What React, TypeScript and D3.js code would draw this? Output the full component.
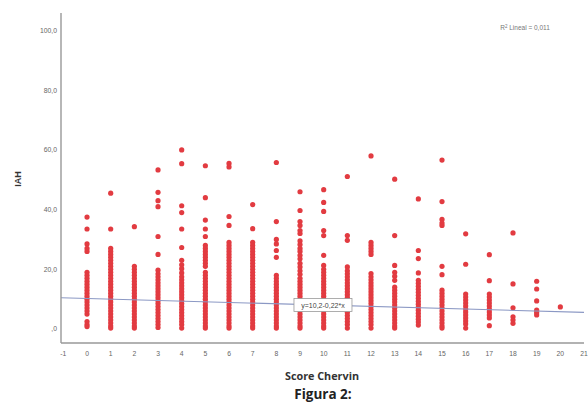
import React from "react";
import * as d3 from "d3";

const scores = [0, 1, 2, 3, 4, 5, 6, 7, 8, 9, 10, 11, 12, 13, 14, 15, 16, 17, 18, 19, 20];

const iah0 = [37.5, 33.5, 28.5, 27, 26, 19, 18, 17, 16, 15, 14, 13, 12, 11, 10, 9, 8, 7, 6, 5, 2.5, 1.5, 0.8];
const iah1 = [45.5, 33.5, 27, 26, 25, 24, 23, 22, 21, 20, 19, 18, 17, 16, 15, 14, 13, 12, 11, 10, 9, 8, 7, 6, 5, 4, 3, 2, 1, 0.3];
const iah2 = [34.3, 21, 20, 19, 18, 17, 16, 15, 14, 13, 12, 11, 10, 9, 8, 7, 6, 5, 4, 3, 2, 1, 0.3];
const iah3 = [53.3, 45.8, 43, 41, 31, 25, 19.7, 18.5, 17.5, 16.5, 15.5, 14.5, 13.5, 12.5, 11.5, 10.5, 9.5, 8.5, 7.5, 6.5, 5.5, 4.5, 3.5, 2.5, 1.5, 0.5];
const iah4 = [60, 55.4, 41.3, 39, 33.5, 27.3, 23, 21.5, 20.2, 18.8, 17.5, 16.5, 15.5, 14.5, 13.5, 12.5, 11.5, 10.5, 9.5, 8.5, 7.5, 6.5, 5.5, 4.5, 3.5, 2.5, 1.5, 0.3];
const iah5 = [54.7, 44, 36.5, 33.5, 31, 28, 27, 26, 25, 24, 23, 22, 21, 19, 18, 17, 16, 15, 14, 13, 12, 11, 10, 9, 8, 7, 6, 5, 4, 3, 2, 1, 0.3];
const iah6 = [55.5, 54.3, 37.7, 34.7, 29, 28, 27, 26, 25, 24, 23, 22, 21, 20, 19, 18, 17, 16, 15, 14, 13, 12, 11, 10, 9, 8, 7, 6, 5, 4, 3, 2, 1, 0.3];
const iah7 = [41.7, 33.6, 29, 28, 27, 26, 25, 24, 23, 22, 21, 20, 19, 18, 17, 16, 15, 14, 13, 12, 11, 10, 9, 8, 7, 6, 5, 4, 3, 2, 1, 0.3];
const iah8 = [55.8, 36, 30, 28.5, 26.3, 24, 18, 17, 16, 15, 14, 13, 12, 11, 10, 9, 8, 7, 6, 5, 4, 3, 2, 1, 0.3];
const iah9 = [46, 39.7, 36, 34.7, 33, 32, 29.5, 28.3, 27, 26, 24.7, 23.5, 22, 20.8, 19.5, 18.3, 17, 16, 15, 14, 13, 12, 11, 10, 9, 8, 7, 6, 5, 4, 3, 2, 1, 0.3];
const iah10 = [46.7, 42.4, 39.4, 33, 31.3, 24.7, 21.3, 20, 19, 18, 17, 16, 15, 14, 13, 12, 11, 10, 9, 8, 7, 6, 5, 4, 3, 2, 1, 0.3];
const iah11 = [51.1, 31.3, 29.7, 20.8, 19.5, 18.5, 17.5, 16.5, 15.5, 14.5, 13.5, 12.5, 11.5, 10.5, 9.5, 8.5, 7.5, 6.5, 5.5, 4.5, 3.5, 2.5, 1.5, 0.3];
const iah12 = [58, 29, 28, 27, 26, 25, 18.6, 17.5, 16.5, 15.5, 14.5, 13.5, 12.5, 11.5, 10.5, 9.5, 8.5, 7.5, 6.5, 5.5, 4.5, 3.5, 2.5, 1.5, 0.3];
const iah13 = [50.2, 31.3, 21.3, 19, 17.7, 16.3, 14, 13, 12, 11, 10, 9, 8, 7, 6, 5, 4, 3, 2, 1, 0.3];
const iah14 = [43.6, 26.3, 23.6, 18.8, 16.3, 15.3, 14.3, 13.3, 12.3, 11.3, 10.3, 9.3, 8.3, 7.3, 6.3, 5.3, 4.3, 3.3, 2.3, 1.3];
const iah15 = [56.6, 42.7, 36.7, 35.5, 34.7, 21, 18.2, 13, 12, 11, 10, 9, 8, 7, 6, 5, 4, 3, 2, 1, 0.3];
const iah16 = [31.9, 21.7, 11.7, 10.7, 9.7, 8.7, 7.7, 6.7, 5.7, 4.7, 3.7, 2.7, 1.7, 0.3];
const iah17 = [24.9, 16.2, 11.7, 10.7, 9.7, 8.7, 7.7, 6.7, 5.7, 4.7, 3.7, 1.1];
const iah18 = [32.2, 15.1, 7.1, 4.1, 3, 1.9];
const iah19 = [16, 13.4, 9.4, 6.3, 5.5, 4.7];
const iah20 = [7.4];

const iahByScore = [iah0, iah1, iah2, iah3, iah4, iah5, iah6, iah7, iah8, iah9, iah10, iah11, iah12, iah13, iah14, iah15, iah16, iah17, iah18, iah19, iah20];

const xTicks = [-1, 0, 1, 2, 3, 4, 5, 6, 7, 8, 9, 10, 11, 12, 13, 14, 15, 16, 17, 18, 19, 20, 21];
const yTicks = [0, 20, 40, 60, 80, 100];
const yTickLabels = [",0", "20,0", "40,0", "60,0", "80,0", "100,0"];

const intercept = 10.2;
const slope = -0.22;
const fitLabel = "y=10,2-0,22*x";
const r2Value = "0,011";

export default function App() {
  const W = 588, H = 408;
  const x = d3.scaleLinear().domain([-1.1, 21]).range([61, 584]);
  const y = d3.scaleLinear().domain([-4.7, 105.9]).range([343, 13]);
  const fitX = [-1.1, 21];
  const line = d3.line<number>().x(d => x(d)).y(d => y(intercept + slope * d));
  const lblX = x(9.97);
  const lblY = y(intercept + slope * 9.97);
  const points: { s: number; v: number }[] = [];
  scores.forEach((s, i) => iahByScore[i].forEach(v => points.push({ s, v })));
  const axisFont = "'Liberation Sans', Arial, sans-serif";
  return (
    <svg width={W} height={H} style={{ position: "absolute", left: 0, top: 0, background: "#fff" }}>
      <rect x={0} y={0} width={W} height={H} fill="#fff" />
      {points.map((p, i) => (
        <circle key={i} cx={x(p.s)} cy={y(p.v)} r={2.6} fill="#e23b41" />
      ))}
      <path d={line(fitX) || ""} stroke="#8b98c4" strokeWidth={1.1} fill="none" />
      <rect x={lblX - 29} y={lblY - 6.5} width={58} height={13} fill="#fff" stroke="#9a9a9a" strokeWidth={0.8} />
      <text x={lblX} y={lblY + 2.5} textAnchor="middle" fontSize={7} fill="#444" fontFamily={axisFont}>{fitLabel}</text>
      <line x1={61} x2={61} y1={13} y2={343} stroke="#999" strokeWidth={1.4} />
      <line x1={61} x2={584} y1={343} y2={343} stroke="#999" strokeWidth={1.4} />
      {yTicks.map((t, i) => (
        <text key={t} x={57} y={y(t) + 2.5} textAnchor="end" fontSize={6.8} fill="#666" fontFamily={axisFont}>{yTickLabels[i]}</text>
      ))}
      {xTicks.map(t => (
        <text key={t} x={x(t)} y={356} textAnchor="middle" fontSize={6.8} fill="#666" fontFamily={axisFont}>{t}</text>
      ))}
      <text x={525} y={30} textAnchor="middle" fontSize={6.5} fill="#777" fontFamily={axisFont}>
        R<tspan dy={-2.5} fontSize={4.5}>2</tspan><tspan dy={2.5}> Lineal = {r2Value}</tspan>
      </text>
      <text transform="translate(21,179) rotate(-90)" textAnchor="middle" fontSize={9} fontWeight="bold" fill="#333" fontFamily={axisFont}>IAH</text>
      <text x={322} y={380} textAnchor="middle" fontSize={10.8} fontWeight="bold" fill="#333" fontFamily="'Open Sans', sans-serif">Score Chervin</text>
      <text x={323} y={399} textAnchor="middle" fontSize={13.5} fontWeight="bold" fill="#222" fontFamily="'Open Sans', sans-serif">Figura 2:</text>
    </svg>
  );
}
